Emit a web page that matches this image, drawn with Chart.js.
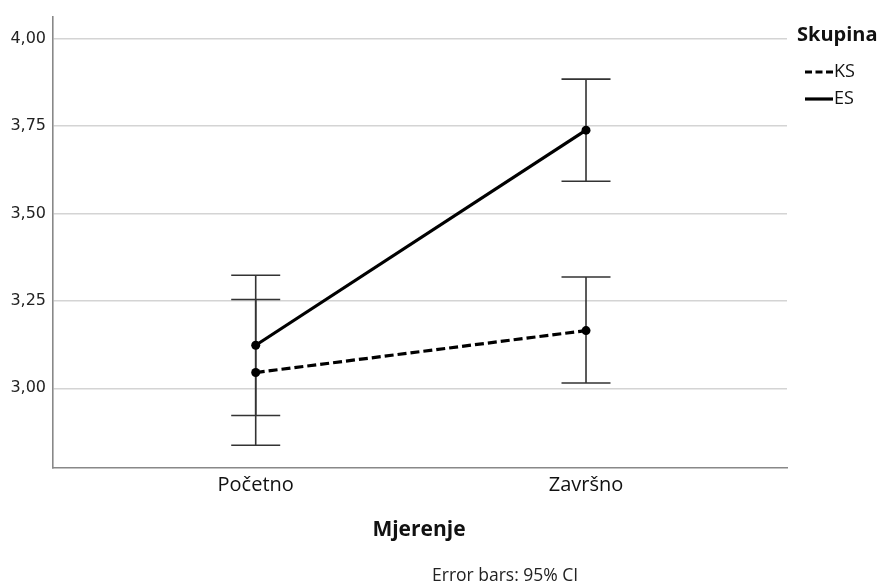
<!DOCTYPE html>
<html>
<head>
<meta charset="utf-8">
<script src="https://cdn.jsdelivr.net/npm/chart.js@4.4.1/dist/chart.umd.min.js"></script>
<style>
  html, body { margin: 0; padding: 0; background: #ffffff; }
  #wrap { width: 882px; height: 583px; }
</style>
</head>
<body>
<div id="wrap"><canvas id="c" width="882" height="583"></canvas></div>
<script>
// ---- data ----
const categories = ['Početno', 'Završno'];
const seriesNames = ['KS', 'ES'];
const ksMean = [3.045, 3.165];
const ksLow  = [2.837, 3.015];
const ksHigh = [3.254, 3.318];
const esMean = [3.123, 3.738];
const esLow  = [2.922, 3.592];
const esHigh = [3.323, 3.884];
const yTicks = [3.00, 3.25, 3.50, 3.75, 4.00];
const legendTitle = 'Skupina';
const xTitle = 'Mjerenje';
const footNote = 'Error bars: 95% CI';

const tickFont = "DejaVu Sans";
const labelFont = "Open Sans";

function pts(arr) { return arr.map((v, i) => ({ x: i, y: v })); }

const errorBarPlugin = {
  id: 'errorBars',
  beforeDatasetsDraw(chart) {
    const ctx = chart.ctx;
    const xs = chart.scales.x, ys = chart.scales.y;
    ctx.save();
    ctx.strokeStyle = '#333333';
    ctx.lineWidth = 1.6;
    chart.data.datasets.forEach(ds => {
      ds.low.forEach((lo, i) => {
        const hi = ds.high[i];
        const px = xs.getPixelForValue(i);
        const pl = ys.getPixelForValue(lo);
        const ph = ys.getPixelForValue(hi);
        const cap = 24.5;
        ctx.beginPath();
        ctx.moveTo(px, pl); ctx.lineTo(px, ph);
        ctx.moveTo(px - cap, pl); ctx.lineTo(px + cap, pl);
        ctx.moveTo(px - cap, ph); ctx.lineTo(px + cap, ph);
        ctx.stroke();
      });
    });
    ctx.restore();
  }
};

const textPlugin = {
  id: 'texts',
  afterDraw(chart) {
    const ctx = chart.ctx;
    ctx.save();
    ctx.fillStyle = '#111111';
    ctx.textBaseline = 'middle';
    // axis title
    ctx.textAlign = 'center';
    ctx.font = "bold 21px '" + labelFont + "'";
    ctx.fillText(xTitle, 419, 530);
    // footnote
    ctx.textAlign = 'left';
    ctx.font = "17.5px '" + labelFont + "'";
    ctx.fillStyle = '#222222';
    ctx.fillText(footNote, 432, 576);
    // legend
    ctx.fillStyle = '#111111';
    ctx.textAlign = 'left';
    ctx.font = "bold 20px '" + labelFont + "'";
    ctx.fillText(legendTitle, 797, 35);
    ctx.font = "18px '" + labelFont + "'";
    chart.data.datasets.forEach((ds, i) => {
      const y = 72 + i * 27;
      ctx.save();
      ctx.strokeStyle = ds.borderColor;
      ctx.lineWidth = ds.borderWidth;
      ctx.setLineDash(ds.borderDash ? [7, 3.5] : []);
      ctx.beginPath();
      ctx.moveTo(805, y); ctx.lineTo(833, y);
      ctx.stroke();
      ctx.restore();
      ctx.fillText(ds.label, 834, y);
    });
    ctx.restore();
  }
};

new Chart(document.getElementById('c'), {
  type: 'line',
  data: {
    datasets: [
      { label: seriesNames[0], data: pts(ksMean), low: ksLow, high: ksHigh,
        borderColor: '#000000', backgroundColor: '#000000', borderWidth: 3.2,
        borderDash: [9, 4], pointRadius: 4.5, pointBackgroundColor: '#000000',
        pointBorderWidth: 0, tension: 0 },
      { label: seriesNames[1], data: pts(esMean), low: esLow, high: esHigh,
        borderColor: '#000000', backgroundColor: '#000000', borderWidth: 3.2,
        pointRadius: 4.5, pointBackgroundColor: '#000000',
        pointBorderWidth: 0, tension: 0 }
    ]
  },
  options: {
    responsive: false,
    animation: false,
    events: [],
    layout: { padding: { top: 15, right: 95, bottom: 0, left: 0 } },
    plugins: { legend: { display: false }, tooltip: { enabled: false } },
    scales: {
      x: {
        type: 'linear',
        min: -0.6137, max: 1.6085,
        afterBuildTicks(s) { s.ticks = categories.map((c, i) => ({ value: i })); },
        afterFit(s) { s.height = 115; },
        ticks: {
          callback: (v) => categories[v] !== undefined ? categories[v] : '',
          font: { family: labelFont, size: 20 },
          color: '#111111',
          padding: 5,
          maxRotation: 0,
          autoSkip: false
        },
        grid: { display: false, drawTicks: false },
        border: { display: true, color: '#888888', width: 1.6 }
      },
      y: {
        min: 2.7721, max: 4.0627,
        afterBuildTicks(s) { s.ticks = yTicks.map(v => ({ value: v })); },
        afterFit(s) { s.width = 53; },
        ticks: {
          callback: (v) => Number(v).toFixed(2).replace('.', ','),
          font: { family: tickFont, size: 16 },
          color: '#222222',
          padding: 7
        },
        grid: { color: '#d4d4d4', lineWidth: 1.5, drawTicks: false },
        border: { display: true, color: '#888888', width: 1.6 }
      }
    }
  },
  plugins: [errorBarPlugin, textPlugin]
});
</script>
</body>
</html>
